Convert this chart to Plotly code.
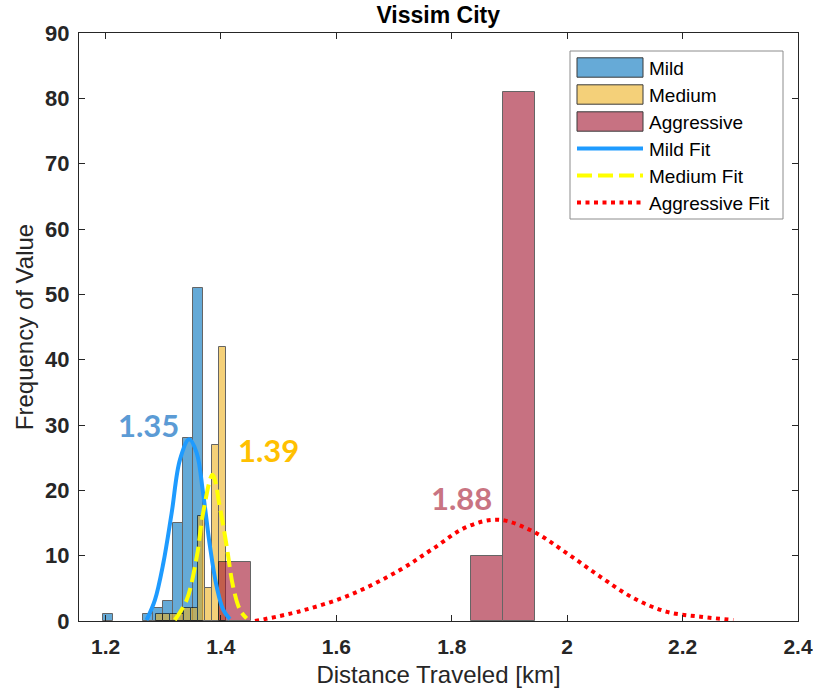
import plotly.graph_objects as go

# ---------------- data ----------------
mild_centers = [1.2047, 1.2741, 1.2914, 1.3087, 1.3261, 1.3434, 1.3607]
mild_counts = [1, 1, 2, 3, 15, 28, 51]
mild_width = 0.01734

medium_centers = [1.2931, 1.3053, 1.3174, 1.3295, 1.3417, 1.3538, 1.3660, 1.3781, 1.3902, 1.4024]
medium_counts = [1, 1, 1, 1, 2, 2, 16, 5, 27, 42]
medium_width = 0.01214

aggr_centers = [1.425, 1.861, 1.916]
aggr_counts = [9, 10, 81]
aggr_width = 0.0555

mild_fit_x = [1.271, 1.2855, 1.300, 1.3145, 1.329, 1.345, 1.358, 1.369, 1.381, 1.3925, 1.404, 1.4155]
mild_fit_y = [0.15, 3.2, 8.8, 16.5, 24.7, 27.8, 25.7, 19.6, 11.4, 5.3, 1.7, 0.3]

medium_fit_x = [1.320, 1.3405, 1.358, 1.369, 1.3855, 1.398, 1.410, 1.421, 1.433, 1.4445]
medium_fit_y = [0.15, 3.2, 9.8, 16.5, 22.4, 17.5, 11.4, 5.3, 1.7, 0.4]

aggr_fit_x = [1.459, 1.537, 1.624, 1.710, 1.768, 1.826, 1.881, 1.941, 1.999, 2.057, 2.115, 2.173, 2.231, 2.288]
aggr_fit_y = [0.0, 1.5, 4.0, 7.8, 11.1, 14.4, 15.5, 13.7, 10.4, 6.8, 3.5, 1.4, 0.66, 0.15]

labels = ["1.35", "1.39", "1.88"]
label_x = [1.274, 1.482, 1.816]
label_y = [30.0, 26.2, 18.8]

legend_names = ["Mild", "Medium", "Aggressive", "Mild Fit", "Medium Fit", "Aggressive Fit"]

x_ticks = [1.2, 1.4, 1.6, 1.8, 2.0, 2.2, 2.4]
x_tick_text = ["1.2", "1.4", "1.6", "1.8", "2", "2.2", "2.4"]
y_ticks = [0, 10, 20, 30, 40, 50, 60, 70, 80, 90]

# ---------------- styles ----------------
W, H = 813, 691
ML, MR, MT, MB = 79, 15, 33, 70
PW, PH = W - ML - MR, H - MT - MB

bar_colors = ["rgb(0,114,189)", "rgb(237,177,32)", "rgb(162,20,47)"]
bar_colors_blend = ["rgb(102,170,215)", "rgb(244,208,121)", "rgb(199,114,130)"]
fit_styles = [dict(color="#1E9BFF", width=4, dash="solid"),
              dict(color="#FFFF00", width=4, dash="15px,6px"),
              dict(color="#FF0000", width=4, dash="4px,4.5px")]


def px_x(p):
    return (p - ML) / PW


def px_y(p):
    return (H - MB - p) / PH


# ---------------- figure ----------------
fig = go.Figure()

bar_line = dict(color="black", width=1)
for cx, cy, w, col, nm in zip([mild_centers, medium_centers, aggr_centers],
                              [mild_counts, medium_counts, aggr_counts],
                              [mild_width, medium_width, aggr_width],
                              bar_colors, legend_names[:3]):
    fig.add_trace(go.Bar(x=cx, y=cy, width=w, name=nm, showlegend=False,
                         marker=dict(color=col, line=bar_line), opacity=0.6))

for fx, fy, st, nm in zip([mild_fit_x, medium_fit_x, aggr_fit_x],
                          [mild_fit_y, medium_fit_y, aggr_fit_y],
                          fit_styles, legend_names[3:]):
    fig.add_trace(go.Scatter(x=fx, y=fy, mode="lines", name=nm, showlegend=False,
                             line=dict(color=st["color"], width=st["width"], dash=st["dash"],
                                       shape="spline")))

label_colors = ["#5B9BD5", "#FFC000", "#C97482"]
for t, x, y, c in zip(labels, label_x, label_y, label_colors):
    fig.add_annotation(x=x, y=y, text="<b>%s</b>" % t, showarrow=False,
                       font=dict(family="Lato", size=31, color=c))

# ---------------- legend (drawn box) ----------------
fig.add_shape(type="rect", xref="paper", yref="paper",
              x0=px_x(570), x1=px_x(783), y0=px_y(219), y1=px_y(51),
              line=dict(color="#8C8C8C", width=1), fillcolor="white", layer="above")
row0, row_step = 67.5, 27.0
for i, nm in enumerate(legend_names):
    yc = row0 + row_step * i
    if i < 3:
        fig.add_shape(type="rect", xref="paper", yref="paper",
                      x0=px_x(577), x1=px_x(643), y0=px_y(yc + 9.7), y1=px_y(yc - 9.7),
                      line=dict(color="#3A3A3A", width=1), fillcolor=bar_colors_blend[i],
                      layer="above")
    else:
        st = fit_styles[i - 3]
        fig.add_shape(type="line", xref="paper", yref="paper",
                      x0=px_x(577), x1=px_x(643), y0=px_y(yc), y1=px_y(yc),
                      line=dict(color=st["color"], width=st["width"], dash=st["dash"]),
                      layer="above")
    fig.add_annotation(xref="paper", yref="paper", x=px_x(647), y=px_y(yc + 1),
                       text=nm, showarrow=False, xanchor="left", yanchor="middle",
                       font=dict(family="Liberation Sans", size=19, color="black"))

axis_common = dict(showline=True, linecolor="#262626", linewidth=1, mirror="ticks",
                   ticks="inside", ticklen=6, tickcolor="#262626", showgrid=False,
                   zeroline=False)

fig.update_xaxes(range=[1.154, 2.4], tickvals=x_ticks, ticktext=x_tick_text,
                 ticklabelstandoff=7,
                 tickfont=dict(family="Liberation Sans", size=21, color="#262626", weight="bold"),
                 title=dict(text="Distance Traveled [km]", standoff=8,
                            font=dict(family="Liberation Sans", size=24, color="#262626")),
                 **axis_common)
fig.update_yaxes(range=[0, 90], tickvals=y_ticks, ticklabelstandoff=4,
                 tickfont=dict(family="Liberation Sans", size=22, color="#262626", weight="bold"),
                 title=dict(text="Frequency of Value", standoff=4,
                            font=dict(family="Liberation Sans", size=24, color="#262626")),
                 **axis_common)

fig.update_layout(
    width=W, height=H,
    margin=dict(l=ML, r=MR, t=MT, b=MB, autoexpand=False),
    paper_bgcolor="white", plot_bgcolor="white",
    barmode="overlay", bargap=0,
    title=dict(text="<b>Vissim City</b>", x=0.539, xanchor="center", y=0.978, yanchor="middle",
               font=dict(family="Liberation Sans", size=23, color="black")),
    showlegend=False,
)

fig.write_html("out.html")
